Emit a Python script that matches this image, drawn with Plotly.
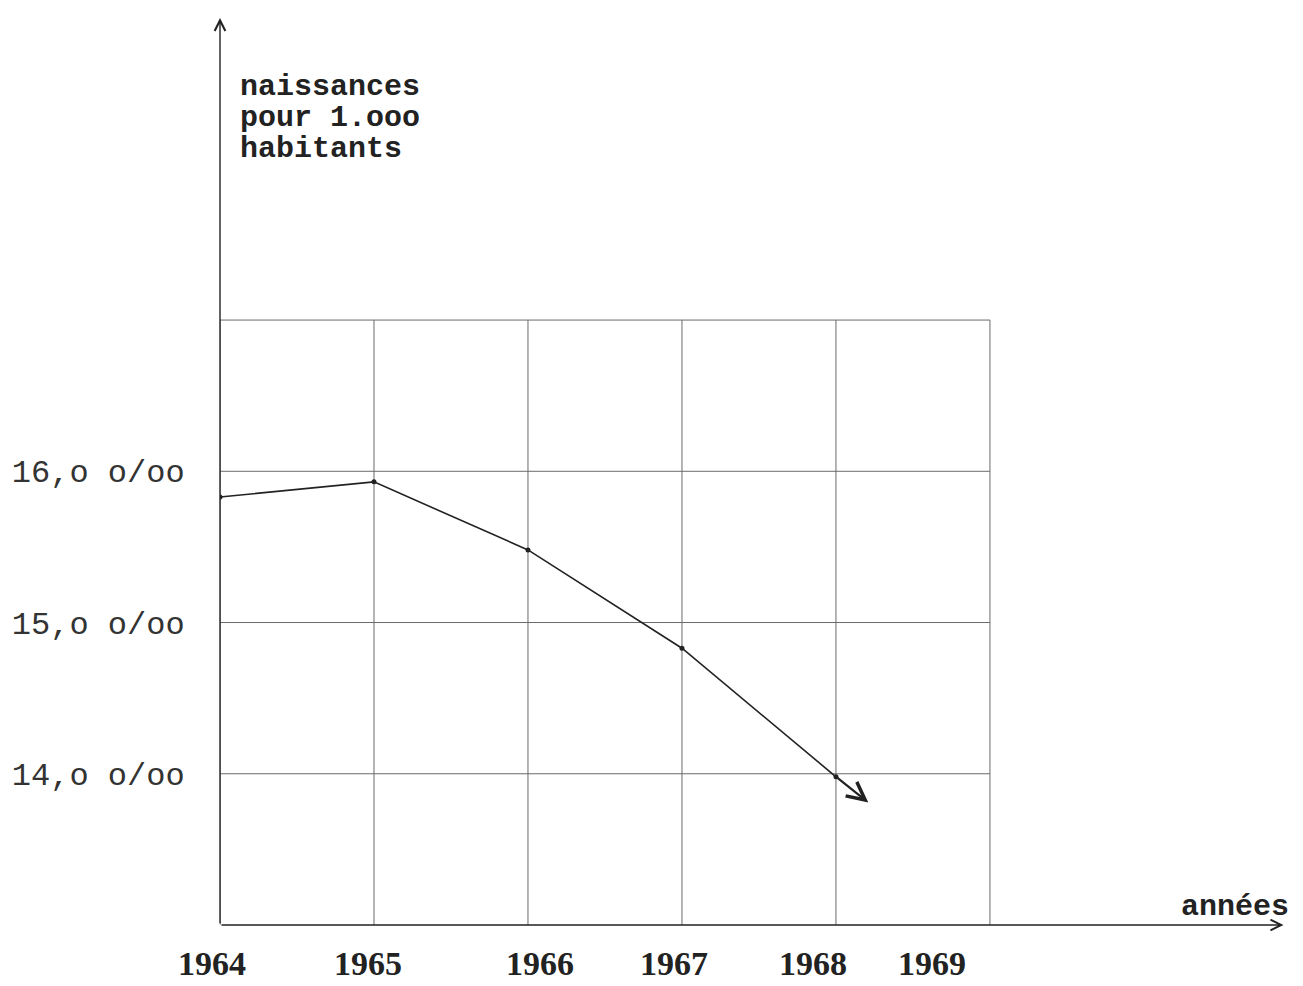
import plotly.graph_objects as go

# ---- data ----
years = [1964, 1965, 1966, 1967, 1968]
birth_rate = [15.83, 15.93, 15.48, 14.83, 13.98]   # naissances pour 1.000 habitants
trend_tip = [1968.21, 13.81]                        # end of the hand-drawn arrow

grid_years = [1964, 1965, 1966, 1967, 1968, 1969]
grid_levels = [13, 14, 15, 16, 17]

y_tick_vals = [14, 15, 16]
y_tick_text = ["14,o o/oo", "15,o o/oo", "16,o o/oo"]

x_label_years = [1964, 1965, 1966, 1967, 1968, 1969]
x_label_text = ["1964", "1965", "1966", "1967", "1968", "1969"]

y_title_lines = ["naissances", "pour 1.ooo", "habitants"]
x_title = "années"

# ---- style ----
x_label_nudge = [-8, -6, 12, -8, -23, -58]
INK = "#222222"
GRID = "#6a6a6a"
MONO = "Liberation Mono, Courier New, monospace"
SERIF = "Liberation Serif, DejaVu Serif, serif"

X_RANGE = [1964, 1970.916]
Y_RANGE = [13, 19.017]

fig = go.Figure()

# grid: vertical lines
for yr in grid_years:
    fig.add_trace(go.Scatter(x=[yr, yr], y=[grid_levels[0], grid_levels[-1]],
                             mode="lines", line=dict(color=GRID, width=1),
                             hoverinfo="skip", showlegend=False))
# grid: horizontal lines
for lv in grid_levels[1:]:
    fig.add_trace(go.Scatter(x=[grid_years[0], grid_years[-1]], y=[lv, lv],
                             mode="lines", line=dict(color=GRID, width=1),
                             hoverinfo="skip", showlegend=False))

# data line
fig.add_trace(go.Scatter(x=years, y=birth_rate, mode="lines+markers",
                         line=dict(color=INK, width=1.6),
                         marker=dict(color=INK, size=5),
                         showlegend=False))

annotations = []
# arrow continuing the trend
annotations.append(dict(x=trend_tip[0], y=trend_tip[1], ax=years[-1], ay=birth_rate[-1],
                        xref="x", yref="y", axref="x", ayref="y", showarrow=True,
                        arrowhead=5, arrowsize=1.6, arrowwidth=2.2, arrowcolor=INK, text=""))
# y axis with arrow
annotations.append(dict(x=X_RANGE[0], y=Y_RANGE[1] - 0.02, ax=X_RANGE[0], ay=Y_RANGE[0],
                        xref="x", yref="y", axref="x", ayref="y", showarrow=True,
                        arrowhead=5, arrowsize=1.5, arrowwidth=1.4, arrowcolor=INK, text=""))
# x axis with arrow
annotations.append(dict(x=X_RANGE[1] - 0.01, y=Y_RANGE[0], ax=X_RANGE[0], ay=Y_RANGE[0],
                        xref="x", yref="y", axref="x", ayref="y", showarrow=True,
                        arrowhead=5, arrowsize=1.5, arrowwidth=1.4, arrowcolor=INK, text=""))

# x labels
for yr, txt, dx in zip(x_label_years, x_label_text, x_label_nudge):
    annotations.append(dict(x=yr, y=Y_RANGE[0], xref="x", yref="y", text=f"<b>{txt}</b>",
                            showarrow=False, xshift=dx, yshift=-38, yanchor="middle",
                            font=dict(family=SERIF, size=34, color=INK)))
# x title
annotations.append(dict(x=1, y=Y_RANGE[0], xref="paper", yref="y", text=f"<b>{x_title}</b>",
                        showarrow=False, xanchor="right", yanchor="middle", xshift=6, yshift=18,
                        font=dict(family=MONO, size=30, color=INK)))
# y title (three typewritten lines)
for i, line in enumerate(y_title_lines):
    annotations.append(dict(x=X_RANGE[0], y=Y_RANGE[1], xref="x", yref="y", text=f"<b>{line}</b>",
                            showarrow=False, xanchor="left", yanchor="middle",
                            xshift=18, yshift=-72 - 31 * i,
                            font=dict(family=MONO, size=30, color=INK)))

# the page has an 8px body margin, so the figure is sized to sit inside the window
fig.update_layout(
    width=1295, height=978,
    margin=dict(l=212, r=18, t=7, b=61, autoexpand=False),
    paper_bgcolor="white", plot_bgcolor="white",
    annotations=annotations,
    xaxis=dict(range=X_RANGE, showgrid=False, zeroline=False, showline=False,
               showticklabels=False, ticks="", automargin=False),
    yaxis=dict(range=Y_RANGE, showgrid=False, zeroline=False, showline=False,
               tickmode="array", tickvals=y_tick_vals, ticktext=y_tick_text,
               ticks="outside", ticklen=28, tickcolor="rgba(0,0,0,0)", automargin=False,
               tickfont=dict(family=MONO, size=32, color="#333333")),
)

fig.write_html("out.html")
